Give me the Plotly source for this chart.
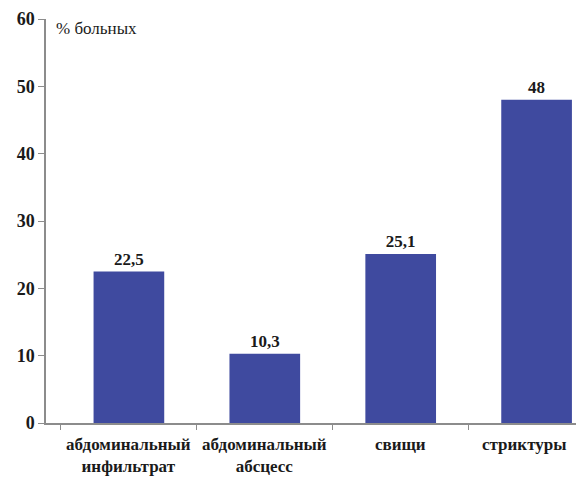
import plotly.graph_objects as go

categories = ["абдоминальный<br>инфильтрат", "абдоминальный<br>абсцесс", "свищи", "стриктуры"]
values = [22.5, 10.3, 25.1, 48]
y_ticks = [0, 10, 20, 30, 40, 50, 60]
y_title = "% больных"

bar_color = "#3F4A9F"
serif = "Times New Roman, Liberation Serif, DejaVu Serif, serif"
text_color = "#1a1a1a"

labels = [f"{v:g}".replace(".", ",") for v in values]

fig = go.Figure(
    go.Bar(
        x=categories,
        y=values,
        text=labels,
        textposition="outside",
        textfont=dict(family=serif, size=17, color=text_color, weight="bold"),
        marker=dict(color=bar_color, line=dict(width=0)),
        width=0.52,
        cliponaxis=False,
    )
)

# Category names as annotations so the rightmost one can be nudged inside the canvas
category_notes = []
for i, name in enumerate(categories):
    category_notes.append(
        dict(
            text=name,
            x=name,
            xref="x",
            y=0,
            yref="paper",
            yanchor="top",
            yshift=-10,
            xshift=-12 if i == len(categories) - 1 else 0,
            showarrow=False,
            align="center",
            font=dict(family=serif, size=17, color=text_color, weight="bold"),
        )
    )

fig.update_layout(
    width=576,
    height=477,
    margin=dict(l=46, r=0, t=19, b=54, autoexpand=False),
    paper_bgcolor="white",
    plot_bgcolor="white",
    showlegend=False,
    font=dict(family=serif, color=text_color),
    xaxis=dict(
        type="category",
        range=[-0.61, 3.29],
        showline=True,
        linecolor="#8c8c8c",
        linewidth=1.5,
        ticks="outside",
        tickson="boundaries",
        ticklen=5,
        tickcolor="#8c8c8c",
        showgrid=False,
        showticklabels=False,
        automargin=False,
    ),
    yaxis=dict(
        range=[0, 60],
        tickvals=y_ticks,
        showline=True,
        linecolor="#8c8c8c",
        linewidth=1.5,
        ticks="outside",
        ticklen=6,
        tickcolor="#8c8c8c",
        showgrid=False,
        zeroline=False,
        automargin=False,
        tickfont=dict(family=serif, size=18, color=text_color, weight="bold"),
    ),
    annotations=[
        dict(
            text=y_title,
            xref="paper",
            yref="paper",
            x=0.015,
            y=1.005,
            xanchor="left",
            yanchor="top",
            showarrow=False,
            font=dict(family=serif, size=17, color=text_color),
        )
    ]
    + category_notes,
)

fig.write_html("out.html")
